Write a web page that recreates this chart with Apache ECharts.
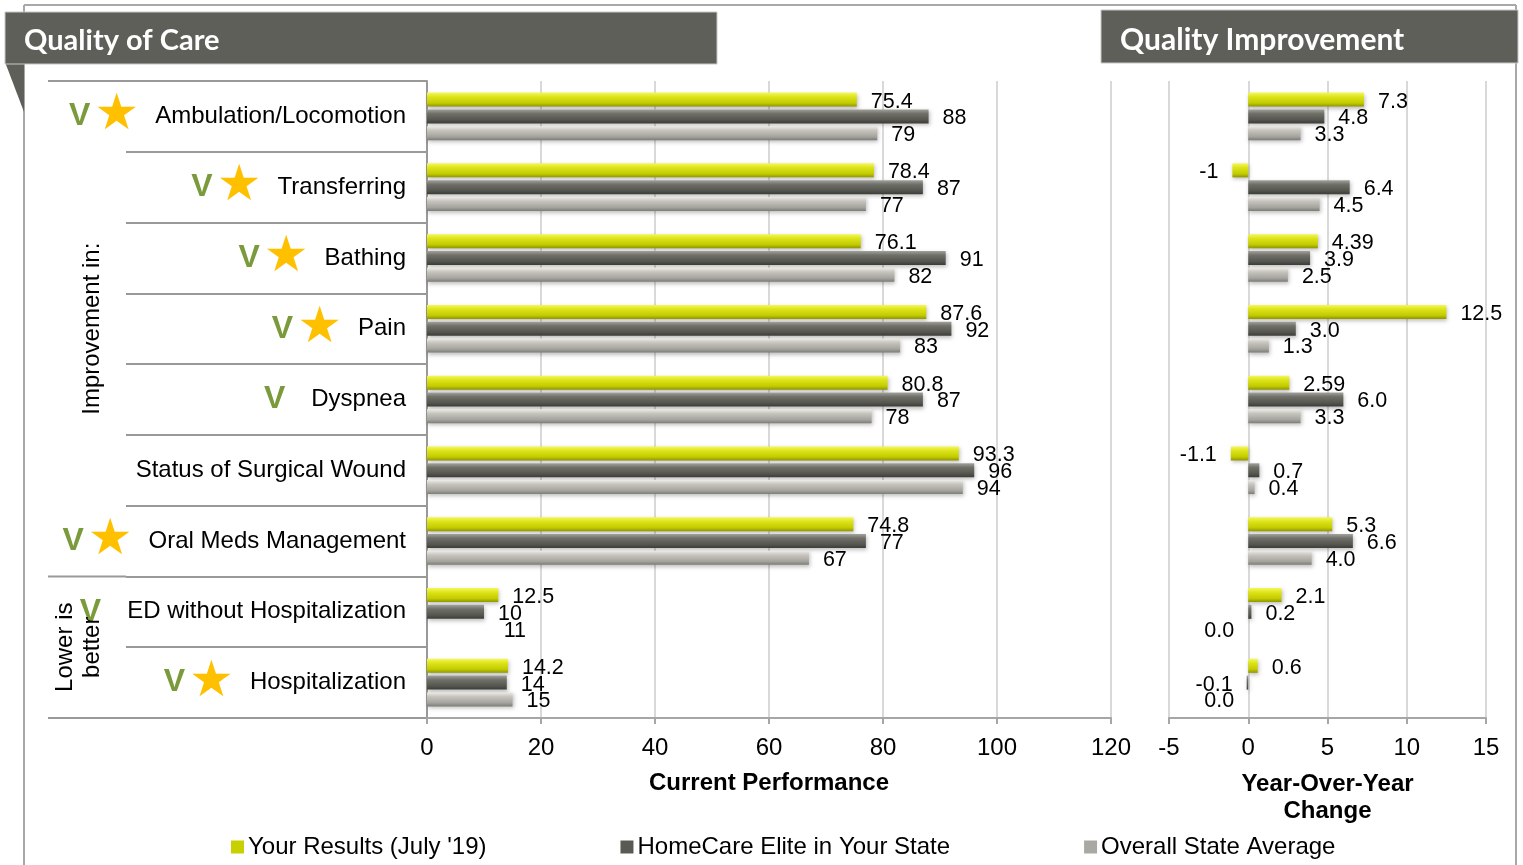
<!DOCTYPE html>
<html>
<head>
<meta charset="utf-8">
<script src="https://cdn.jsdelivr.net/npm/echarts@6/dist/echarts.min.js"></script>
<style>html,body{margin:0;padding:0;background:#fff;}#c{width:1523px;height:865px;}</style>
</head>
<body>
<div id="c"></div>
<script>
// ---- data ----
const categories = ['Ambulation/Locomotion','Transferring','Bathing','Pain','Dyspnea','Status of Surgical Wound','Oral Meds Management','ED without Hospitalization','Hospitalization'];
const hasCheck = [true,true,true,true,true,false,true,true,true];
const hasStar  = [true,true,true,true,false,false,true,false,true];
const seriesNames = ["Your Results (July '19)", 'HomeCare Elite in Your State', 'Overall State Average'];
const yourCurrent  = [75.4, 78.4, 76.1, 87.6, 80.8, 93.3, 74.8, 12.5, 14.2];
const eliteCurrent = [88, 87, 91, 92, 87, 96, 77, 10, 14];
const stateCurrent = [79, 77, 82, 83, 78, 94, 67, 11, 15];
const yourYoY  = ['7.3', '-1', '4.39', '12.5', '2.59', '-1.1', '5.3', '2.1', '0.6'];
const eliteYoY = ['4.8', '6.4', '3.9', '3.0', '6.0', '0.7', '6.6', '0.2', '-0.1'];
const stateYoY = ['3.3', '4.5', '2.5', '1.3', '3.3', '0.4', '4.0', '0.0', '0.0'];
const groupLabels = ['Improvement in:', 'Lower is\nbetter'];
const groupRanges = [[0, 7], [7, 9]];

// ---- layout ----
const TOP = 81, BOT = 718, H = 865;
const L_LEFT = 427, L_RIGHT = 1111, R_LEFT = 1169, R_RIGHT = 1486;
const STEP = (BOT - TOP) / categories.length;
const FONT = 'Liberation Sans, Arial, sans-serif';
const FS = 24;

function grad(stops) {
  return new echarts.graphic.LinearGradient(0, 0, 0, 1, stops.map(c => ({offset: c[0], color: c[1]})));
}
const colors = [
  grad([[0,'#f4f85a'],[0.3,'#dde41a'],[0.75,'#c2ca00'],[1,'#8f9500']]),
  grad([[0,'#a2a29d'],[0.3,'#707069'],[0.75,'#55554f'],[1,'#3c3c38']]),
  grad([[0,'#ecebe5'],[0.3,'#c6c4bd'],[0.75,'#a5a39d'],[1,'#7d7b76']])
];
const legendColors = ['#c8d000', '#5a5a55', '#aaa8a2'];

const chart = echarts.init(document.getElementById('c'));

function labelCfg() {
  return {show: true, position: 'right', distance: 14, offset: [0, 2], color: '#000', fontSize: 21.5, fontFamily: FONT};
}
function mkSeries(idx, data, axisIdx, isYoY) {
  return {
    name: seriesNames[idx], type: 'bar', xAxisIndex: axisIdx, yAxisIndex: axisIdx,
    barWidth: 14, barGap: '20%',
    itemStyle: {color: colors[idx], shadowColor: 'rgba(0,0,0,0.25)', shadowBlur: 4, shadowOffsetX: 1, shadowOffsetY: 2},
    label: labelCfg(),
    data: data.map((v, i) => {
      const num = typeof v === 'string' ? parseFloat(v) : v;
      const o = {value: num};
      if (isYoY) {
        o.label = {formatter: String(v), position: num <= 0 ? 'left' : 'right'};
      }
      if (!isYoY && idx === 2 && categories[i] === 'ED without Hospitalization') {
        o.itemStyle = {color: 'rgba(0,0,0,0)', shadowColor: 'rgba(0,0,0,0)'};
      }
      return o;
    })
  };
}

const rich = {
  t: {fontSize: FS, color: '#000', fontFamily: FONT, verticalAlign: 'middle'},
  v: {fontSize: 32, fontWeight: 'bold', color: '#7a9a3c', fontFamily: FONT, verticalAlign: 'middle', padding: [0, 4, 0, 0]},
  vo: {fontSize: 32, fontWeight: 'bold', color: '#7a9a3c', fontFamily: FONT, verticalAlign: 'middle', padding: [0, 26, 0, 0]},
  s: {fontSize: 50, color: '#ffc000', fontFamily: 'DejaVu Sans', verticalAlign: 'middle', padding: [0, 16, 0, 0]}
};

const graphics = [];
// frame
graphics.push({type: 'line', shape: {x1: 24, y1: 5, x2: 1516, y2: 5}, style: {stroke: '#a8a8a8', lineWidth: 2}, z: 0});
graphics.push({type: 'line', shape: {x1: 24, y1: 5, x2: 24, y2: H}, style: {stroke: '#a8a8a8', lineWidth: 2}, z: 0});
graphics.push({type: 'line', shape: {x1: 1516, y1: 5, x2: 1516, y2: H}, style: {stroke: '#a8a8a8', lineWidth: 2}, z: 0});
// headers
graphics.push({type: 'polygon', shape: {points: [[5, 62], [24, 62], [24, 112]]}, style: {fill: '#5f5f5a'}, z: 5});
graphics.push({type: 'rect', shape: {x: 5, y: 12, width: 712, height: 52}, style: {fill: '#5f5f5a', stroke: '#c8c8c8', lineWidth: 1}, z: 6});
graphics.push({type: 'text', x: 24, y: 41, style: {text: 'Quality of Care', fill: '#fff', font: 'bold 29px Lato, "Open Sans", sans-serif', textVerticalAlign: 'middle', verticalAlign: 'middle'}, z: 7});
graphics.push({type: 'rect', shape: {x: 1101, y: 10, width: 417, height: 53}, style: {fill: '#5f5f5a', stroke: '#c8c8c8', lineWidth: 1}, z: 6});
graphics.push({type: 'text', x: 1120, y: 40, style: {text: 'Quality Improvement', fill: '#fff', font: 'bold 30px Lato, "Open Sans", sans-serif', textVerticalAlign: 'middle', verticalAlign: 'middle'}, z: 7});
// long separators at group boundaries
[0, 7, 9].forEach(b => {
  const y = TOP + b * STEP;
  graphics.push({type: 'line', shape: {x1: 48, y1: y, x2: 126, y2: y}, style: {stroke: '#999', lineWidth: 2}, z: 3});
});
// group labels (rotated)
groupLabels.forEach((txt, g) => {
  const yc = TOP + (groupRanges[g][0] + groupRanges[g][1]) / 2 * STEP;
  graphics.push({type: 'text', x: g === 0 ? 92 : 79, y: yc, rotation: Math.PI / 2,
    style: {text: txt, fill: '#000', font: FS + 'px ' + FONT, align: 'center', verticalAlign: 'middle', textAlign: 'center', textVerticalAlign: 'middle', lineHeight: 27}, z: 4});
});

const option = {
  backgroundColor: '#fff',
  animation: false,
  grid: [
    {left: L_LEFT, right: 1523 - L_RIGHT, top: TOP, bottom: H - BOT},
    {left: R_LEFT, right: 1523 - R_RIGHT, top: TOP, bottom: H - BOT}
  ],
  legend: {
    bottom: 1, left: 226, itemGap: 134, itemWidth: 13, itemHeight: 13, icon: 'rect',
    textStyle: {fontSize: FS, color: '#000', fontFamily: FONT, padding: [0, 0, 0, -1]},
    data: seriesNames.map((n, i) => ({name: n, itemStyle: {color: legendColors[i]}}))
  },
  xAxis: [
    {gridIndex: 0, type: 'value', min: 0, max: 120, interval: 20,
     axisLine: {show: true, lineStyle: {color: '#a6a6a6', width: 2}},
     axisTick: {show: true, length: 6, lineStyle: {color: '#a6a6a6', width: 2}},
     axisLabel: {fontSize: FS, color: '#000', fontFamily: FONT, margin: 18},
     splitLine: {show: true, lineStyle: {color: '#d9d9d9', width: 2}},
     name: 'Current Performance', nameLocation: 'middle', nameGap: 53,
     nameTextStyle: {fontSize: FS, fontWeight: 'bold', color: '#000', fontFamily: FONT}},
    {gridIndex: 1, type: 'value', min: -5, max: 15, interval: 5,
     axisLine: {show: true, lineStyle: {color: '#a6a6a6', width: 2}},
     axisTick: {show: true, length: 6, lineStyle: {color: '#a6a6a6', width: 2}},
     axisLabel: {fontSize: FS, color: '#000', fontFamily: FONT, margin: 18},
     splitLine: {show: true, lineStyle: {color: '#d9d9d9', width: 2}},
     name: 'Year-Over-Year\nChange', nameLocation: 'middle', nameGap: 53,
     nameTextStyle: {fontSize: FS, fontWeight: 'bold', color: '#000', fontFamily: FONT, lineHeight: 27}}
  ],
  yAxis: [
    {gridIndex: 0, type: 'category', inverse: true, data: categories,
     axisLine: {show: true, lineStyle: {color: '#999', width: 2}},
     axisTick: {show: true, length: L_LEFT - 126, lineStyle: {color: '#999', width: 2}},
     axisLabel: {margin: 21, formatter: (val, i) => {
        let s = '';
        if (hasCheck[i]) s += hasStar[i] ? '{v|V}' : '{vo|V}';
        if (hasStar[i]) s += '{s|★}';
        return s + '{t|' + val + '}';
     }, rich: rich}},
    {gridIndex: 1, type: 'category', inverse: true, data: categories,
     axisLine: {show: false}, axisTick: {show: false}, axisLabel: {show: false}}
  ],
  series: [
    mkSeries(0, yourCurrent, 0, false),
    mkSeries(1, eliteCurrent, 0, false),
    mkSeries(2, stateCurrent, 0, false),
    mkSeries(0, yourYoY, 1, true),
    mkSeries(1, eliteYoY, 1, true),
    mkSeries(2, stateYoY, 1, true)
  ],
  graphic: graphics
};
chart.setOption(option);
</script>
</body>
</html>
